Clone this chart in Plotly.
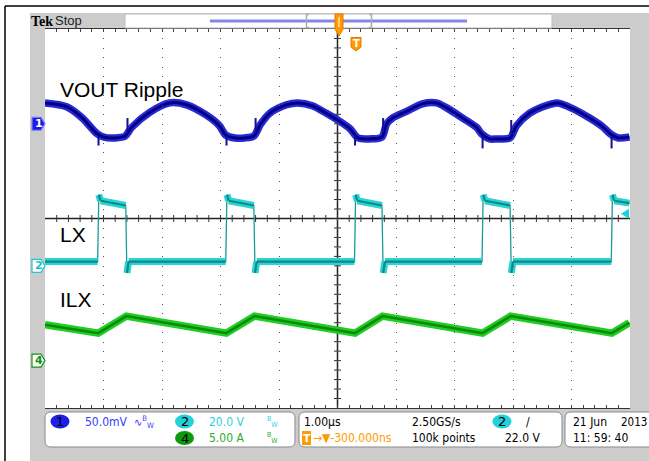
import plotly.graph_objects as go

# ---------------- data (read from the scope screen) ----------------
# time axis: 1.00 us/div, 10 div, horizontal position -300 ns (trigger at t=0)
t_range = [-5.3, 4.7]
# channel vertical windows (8 div each)
ch1_range = [-300, 100]   # CH1 50.0 mV/div  (VOUT ripple, mV)
ch2_range = [-60, 100]    # CH2 20.0 V/div   (LX, V)
ch4_range = [-5, 35]      # CH4 5.00 A/div   (ILX, A)
trig_level_v = 22.0

# VOUT ripple envelope centre
vout_t = [-5.30, -4.93, -4.66, -4.42, -4.30, -4.10, -3.93, -3.82, -3.51, -3.17, -2.88, -2.54,
          -2.32, -2.21, -2.05, -1.89, -1.73, -1.62, -1.46, -1.17, -0.98, -0.73, -0.49, -0.30,
          -0.09, 0.05, 0.25, 0.46, 0.54, 0.64, 0.88, 1.15, 1.39, 1.56, 1.84, 2.08, 2.17, 2.30,
          2.42, 2.65, 2.76, 2.98, 3.21, 3.46, 3.72, 4.01, 4.23, 4.37, 4.50, 4.69]
vout_mv = [22, 18, 6, -10, -14, -15, -13, -4, 12, 22, 20, 9,
           -2, -12, -15, -15, -13, -1, 11, 20, 22, 19, 11, 4,
           -5, -15, -16, -14, 0, 6, 13, 21, 22, 17, 6, -4, -11, -16,
           -16, -15, -2, 11, 18, 22, 16, 6, -3, -11, -15, -14]
# switching spikes on VOUT: time, level before spike, spike tip
spike_t = [-4.385, -3.89, -2.197, -1.70, 0.00, 0.48, 2.18, 2.67, 4.385]
spike_base = [-13, -10, -13, -9, -12, -9, -13, -10, -13]
spike_tip = [-23, 6, -23, 6, -23, 6, -26, 4, -26]

lx_t = [-5.30, -4.40, -4.38, -4.35, -3.92, -3.90, -3.87,
        -2.21, -2.19, -2.16, -1.73, -1.71, -1.68,
        -0.01, 0.01, 0.04, 0.46, 0.48, 0.51,
        2.17, 2.19, 2.22, 2.65, 2.67, 2.70,
        4.38, 4.40, 4.43, 4.69]
lx_v = [1.8, 1.8, 30.0, 27.5, 25.5, -3.0, 1.8,
        1.8, 30.0, 27.5, 25.5, -3.0, 1.8,
        1.8, 30.0, 27.5, 25.5, -3.0, 1.8,
        1.8, 30.0, 27.5, 25.5, -3.0, 1.8,
        1.8, 30.0, 27.5, 26.5]

ilx_t = [-5.30, -4.39, -3.91, -2.20, -1.72, 0.00, 0.47, 2.18, 2.66, 4.39, 4.69]
ilx_a = [3.8, 2.9, 4.7, 2.9, 4.7, 2.9, 4.7, 2.9, 4.7, 2.9, 4.0]

# ---------------- geometry helpers ----------------
W, H = 649, 461
L, R, T, B = 45, 630, 29, 408
PW, PH = R - L, B - T


def px(x):
    return (x - L) / PW


def py(y):
    return (B - y) / PH


def ch_px(val, rng):
    return T + (rng[1] - val) / (rng[1] - rng[0]) * PH


def path(points, close=True):
    s = ""
    for i, (x, y) in enumerate(points):
        s += ("M" if i == 0 else "L") + f"{px(x):.5f},{py(y):.5f} "
    return s + ("Z" if close else "")


def rrect(x0, y0, x1, y1, r):
    P = lambda x, y: f"{px(x):.5f},{py(y):.5f}"
    return (f"M{P(x0 + r, y0)} L{P(x1 - r, y0)} Q{P(x1, y0)} {P(x1, y0 + r)} "
            f"L{P(x1, y1 - r)} Q{P(x1, y1)} {P(x1 - r, y1)} L{P(x0 + r, y1)} "
            f"Q{P(x0, y1)} {P(x0, y1 - r)} L{P(x0, y0 + r)} Q{P(x0, y0)} {P(x0 + r, y0)} Z")


fig = go.Figure()

# ---------------- traces ----------------
# VOUT ripple (CH1)
fig.add_trace(go.Scatter(x=vout_t, y=vout_mv, yaxis="y2", mode="lines",
                         line=dict(color="#2a2ad0", width=7.5, shape="spline", smoothing=0.8),
                         hoverinfo="skip", showlegend=False))
fig.add_trace(go.Scatter(x=vout_t, y=vout_mv, yaxis="y2", mode="lines",
                         line=dict(color="#000088", width=3, shape="spline", smoothing=0.8),
                         hoverinfo="skip", showlegend=False))
sx, sy = [], []
for t0, b0, tip in zip(spike_t, spike_base, spike_tip):
    sx += [t0, t0, None]
    sy += [b0, tip, None]
fig.add_trace(go.Scatter(x=sx, y=sy, yaxis="y2", mode="lines",
                         line=dict(color="#10109a", width=2), hoverinfo="skip", showlegend=False))

# LX (CH2): thin edges + thick levels
band_x, band_y = [], []
for i in range(len(lx_t) - 1):
    if abs(lx_v[i + 1] - lx_v[i]) < 5:
        band_x += [lx_t[i], lx_t[i + 1], None]
        band_y += [lx_v[i], lx_v[i + 1], None]
fig.add_trace(go.Scatter(x=lx_t, y=lx_v, yaxis="y3", mode="lines",
                         line=dict(color="#1a9a9a", width=1.3), hoverinfo="skip", showlegend=False))
fig.add_trace(go.Scatter(x=band_x, y=band_y, yaxis="y3", mode="lines",
                         line=dict(color="#28d4d4", width=7), hoverinfo="skip", showlegend=False))
fig.add_trace(go.Scatter(x=band_x, y=band_y, yaxis="y3", mode="lines",
                         line=dict(color="#118888", width=2.2), hoverinfo="skip", showlegend=False))

# ILX (CH4)
fig.add_trace(go.Scatter(x=ilx_t, y=ilx_a, yaxis="y4", mode="lines",
                         line=dict(color="#22cc22", width=7.5), hoverinfo="skip", showlegend=False))
fig.add_trace(go.Scatter(x=ilx_t, y=ilx_a, yaxis="y4", mode="lines",
                         line=dict(color="#0a8a0a", width=2.5), hoverinfo="skip", showlegend=False))

# ---------------- axes / graticule ----------------
common_off = dict(showticklabels=False, zeroline=False, fixedrange=True)
fig.update_layout(
    xaxis=dict(range=t_range, domain=[0, 1], tick0=-0.3, dtick=1, showgrid=True,
               gridcolor="#555", gridwidth=1, griddash="1px,8.475px",
               showline=True, linecolor="#333", linewidth=1.2, mirror="allticks",
               ticks="inside", ticklen=3, tickcolor="#444",
               minor=dict(tick0=-0.3, dtick=0.2, ticks="inside", ticklen=3, tickcolor="#444", showgrid=False),
               **common_off),
    yaxis=dict(range=[-4, 4], domain=[0, 1], tick0=0, dtick=1, showgrid=True,
               gridcolor="#555", gridwidth=1, griddash="1px,10.7px",
               showline=True, linecolor="#333", linewidth=1.2, mirror="allticks",
               ticks="inside", ticklen=3, tickcolor="#444",
               minor=dict(tick0=0, dtick=0.2, ticks="inside", ticklen=3, tickcolor="#444", showgrid=False),
               **common_off),
    yaxis2=dict(range=ch1_range, overlaying="y", visible=False, fixedrange=True),
    yaxis3=dict(range=ch2_range, overlaying="y", visible=False, fixedrange=True),
    yaxis4=dict(range=ch4_range, overlaying="y", visible=False, fixedrange=True),
)

# ---------------- decorations ----------------
shapes = []
# white screen area (drawn below the transparent plot area)
shapes.append(dict(type="rect", xref="paper", yref="paper", x0=0, x1=1, y0=0, y1=1,
                   fillcolor="white", line=dict(width=0), layer="below"))
# centre graticule lines with their fine ticks (0.2 div)
shapes.append(dict(type="line", xref="paper", yref="paper", x0=0.5, x1=0.5, y0=0, y1=1,
                   line=dict(color="#222", width=1.5), layer="below"))
shapes.append(dict(type="line", xref="paper", yref="paper", x0=0, x1=1, y0=0.5, y1=0.5,
                   line=dict(color="#222", width=1.5), layer="below"))
for k in range(1, 50):
    xx = px(L + k * PW / 50)
    shapes.append(dict(type="line", xref="paper", yref="paper", x0=xx, x1=xx,
                       y0=0.5 - 3.5 / PH, y1=0.5 + 3.5 / PH, line=dict(color="#333", width=1), layer="below"))
for k in range(1, 40):
    yy = py(T + k * PH / 40)
    shapes.append(dict(type="line", xref="paper", yref="paper", y0=yy, y1=yy,
                       x0=0.5 - 3.5 / PW, x1=0.5 + 3.5 / PW, line=dict(color="#333", width=1), layer="below"))

# white area outside the scope screen + outer frame
shapes.append(dict(type="rect", xref="paper", yref="paper", x0=px(0), x1=px(30), y0=py(461), y1=py(0),
                   fillcolor="white", line=dict(width=0), layer="below"))
shapes.append(dict(type="rect", xref="paper", yref="paper", x0=px(0), x1=px(649), y0=py(13), y1=py(0),
                   fillcolor="white", line=dict(width=0), layer="below"))
shapes.append(dict(type="line", xref="paper", yref="paper", x0=px(5), x1=px(5), y0=py(6), y1=py(461),
                   line=dict(color="black", width=1.5)))
shapes.append(dict(type="line", xref="paper", yref="paper", x0=px(5), x1=px(649), y0=py(6), y1=py(6),
                   line=dict(color="black", width=1.5)))

# record-view bar at top
shapes.append(dict(type="rect", xref="paper", yref="paper", x0=px(125), x1=px(552), y0=py(28), y1=py(14),
                   fillcolor="white", line=dict(color="#bbbbbb", width=1)))
shapes.append(dict(type="line", xref="paper", yref="paper", x0=px(210), x1=px(467), y0=py(21), y1=py(21),
                   line=dict(color="#8585e8", width=3)))
shapes.append(dict(type="path", xref="paper", yref="paper",
                   path=path([(309, 14.5), (306.5, 14.5), (306.5, 27.5), (309, 27.5)], close=False),
                   line=dict(color="#aaaaaa", width=1.5)))
shapes.append(dict(type="path", xref="paper", yref="paper",
                   path=path([(369, 14.5), (371.5, 14.5), (371.5, 27.5), (369, 27.5)], close=False),
                   line=dict(color="#aaaaaa", width=1.5)))
# trigger position marker
shapes.append(dict(type="path", xref="paper", yref="paper",
                   path=path([(335, 14), (343, 14), (343, 29), (339, 36), (335, 29)]),
                   fillcolor="#ff9a00", line=dict(color="#e07800", width=1)))
shapes.append(dict(type="rect", xref="paper", yref="paper", x0=px(338), x1=px(340), y0=py(27), y1=py(17),
                   fillcolor="#ffd080", line=dict(width=0)))
# trigger point "T" badge
shapes.append(dict(type="path", xref="paper", yref="paper",
                   path=path([(351, 37.5), (361, 37.5), (361, 47), (356, 51), (351, 47)]),
                   fillcolor="#ff9a00", line=dict(color="#e07800", width=1)))

# channel ground markers on the left
def ch_marker(yc, fill, edge):
    return dict(type="path", xref="paper", yref="paper",
                path=path([(32, yc - 6.5), (41, yc - 6.5), (45, yc), (41, yc + 6.5), (32, yc + 6.5)]),
                fillcolor=fill, line=dict(color=edge, width=1.2))

y1m = ch_px(0, ch1_range)
y2m = ch_px(0, ch2_range)
y4m = ch_px(0, ch4_range)
shapes.append(ch_marker(y1m, "#1c1ce0", "#8080ff"))
shapes.append(ch_marker(y2m, "white", "#20c8c8"))
shapes.append(ch_marker(y4m, "white", "#119911"))

# trigger level arrow (right edge)
ytl = ch_px(trig_level_v, ch2_range)
shapes.append(dict(type="path", xref="paper", yref="paper",
                   path=path([(629, ytl - 5), (629, ytl + 5), (621, ytl)]),
                   fillcolor="#18d0e0", line=dict(width=0)))

# bottom readout boxes
for x0, x1 in [(45, 295), (299, 562), (565, 662)]:
    shapes.append(dict(type="path", xref="paper", yref="paper", path=rrect(x0, 412, x1, 447, 6),
                       fillcolor="white", line=dict(color="#8a8a8a", width=1)))

# channel badges in readout
def badge(xc, yc, fill):
    return dict(type="circle", xref="paper", yref="paper", x0=px(xc - 9.5), x1=px(xc + 9.5),
                y0=py(yc + 7), y1=py(yc - 7), fillcolor=fill, line=dict(width=0))

shapes.append(badge(60, 421.5, "#1e1ee8"))
shapes.append(badge(184.5, 421.5, "#22d2d8"))
shapes.append(badge(184.5, 438, "#0e9a0e"))
shapes.append(badge(502, 421.5, "#22d2d8"))
shapes.append(dict(type="rect", xref="paper", yref="paper", x0=px(302), x1=px(311), y0=py(445), y1=py(431),
                   fillcolor="#ff9a00", line=dict(width=0)))

fig.update_layout(shapes=shapes)

# ---------------- text ----------------
NARROW = "DejaVu Sans Condensed, Liberation Sans Narrow, sans-serif"
ann = []


def text(x, y, s, size=12, color="black", family=NARROW, xanchor="left", bold=False):
    if bold:
        s = "<b>" + s + "</b>"
    ann.append(dict(x=px(x), y=py(y), xref="paper", yref="paper", text=s, showarrow=False,
                    xanchor=xanchor, yanchor="middle", font=dict(size=size, color=color, family=family)))

text(29, 21.5, "Tek", 14, "black", "Liberation Serif, DejaVu Serif, serif", bold=True)
text(53, 21, "Stop", 13, "#222", "Liberation Sans, Arial, sans-serif")
text(58, 89, "VOUT Ripple", 21, "black", "Liberation Sans, Arial, sans-serif")
text(58, 234, "LX", 21, "black", "Liberation Sans, Arial, sans-serif")
text(58, 299, "ILX", 21, "black", "Liberation Sans, Arial, sans-serif")

# markers text
text(38.5, y1m, "1", 11, "white", "DejaVu Sans, sans-serif", "center", bold=True)
text(38.5, y2m, "2", 11, "#18c0c8", "DejaVu Sans, sans-serif", "center", bold=True)
text(38.5, y4m, "4", 11, "#109010", "DejaVu Sans, sans-serif", "center", bold=True)
text(356, 43.5, "T", 10, "white", "DejaVu Sans, sans-serif", "center", bold=True)

# readout row 1
text(60, 421.5, "1", 13, "black", "DejaVu Sans, sans-serif", "center")
text(83, 421.5, "50.0mV", 12, "#3a3aff")
text(132, 421.5, "∿<sup>B</sup><sub>W</sub>", 11, "#3a3aff")
text(184.5, 421.5, "2", 13, "black", "DejaVu Sans, sans-serif", "center")
text(207, 421.5, "20.0 V", 12, "#30d0d8")
text(265, 421.5, "<sup>B</sup><sub>W</sub>", 10, "#30d0d8")
text(302, 421.5, "1.00µs", 12)
text(410, 421.5, "2.50GS/s", 12)
text(502, 421.5, "2", 13, "black", "DejaVu Sans, sans-serif", "center")
text(524, 421.5, "/", 12)
text(571, 421.5, "21 Jun", 12)
text(619, 421.5, "2013", 11.5)
# readout row 2
text(184.5, 438, "4", 13, "black", "DejaVu Sans, sans-serif", "center")
text(207, 438, "5.00 A", 12, "#2aae2a")
text(265, 438, "<sup>B</sup><sub>W</sub>", 10, "#2aae2a")
text(306.5, 438, "T", 11, "white", "DejaVu Sans, sans-serif", "center", bold=True)
text(311, 438, "→▼-300.000ns", 12, "#ff9a00")
text(410, 438, "100k points", 12)
text(503, 438, "22.0 V", 12)
text(571, 438, "11: 59: 40", 12)

fig.update_layout(
    annotations=ann,
    width=W, height=H,
    margin=dict(l=L, r=W - R, t=T, b=H - B, pad=0),
    paper_bgcolor="#cccccc",
    plot_bgcolor="rgba(0,0,0,0)",
    showlegend=False,
    hovermode=False,
)

fig.write_html("out.html", config={"displayModeBar": False, "staticPlot": True},
               post_script="document.body.style.margin='0';document.body.style.padding='0';")
